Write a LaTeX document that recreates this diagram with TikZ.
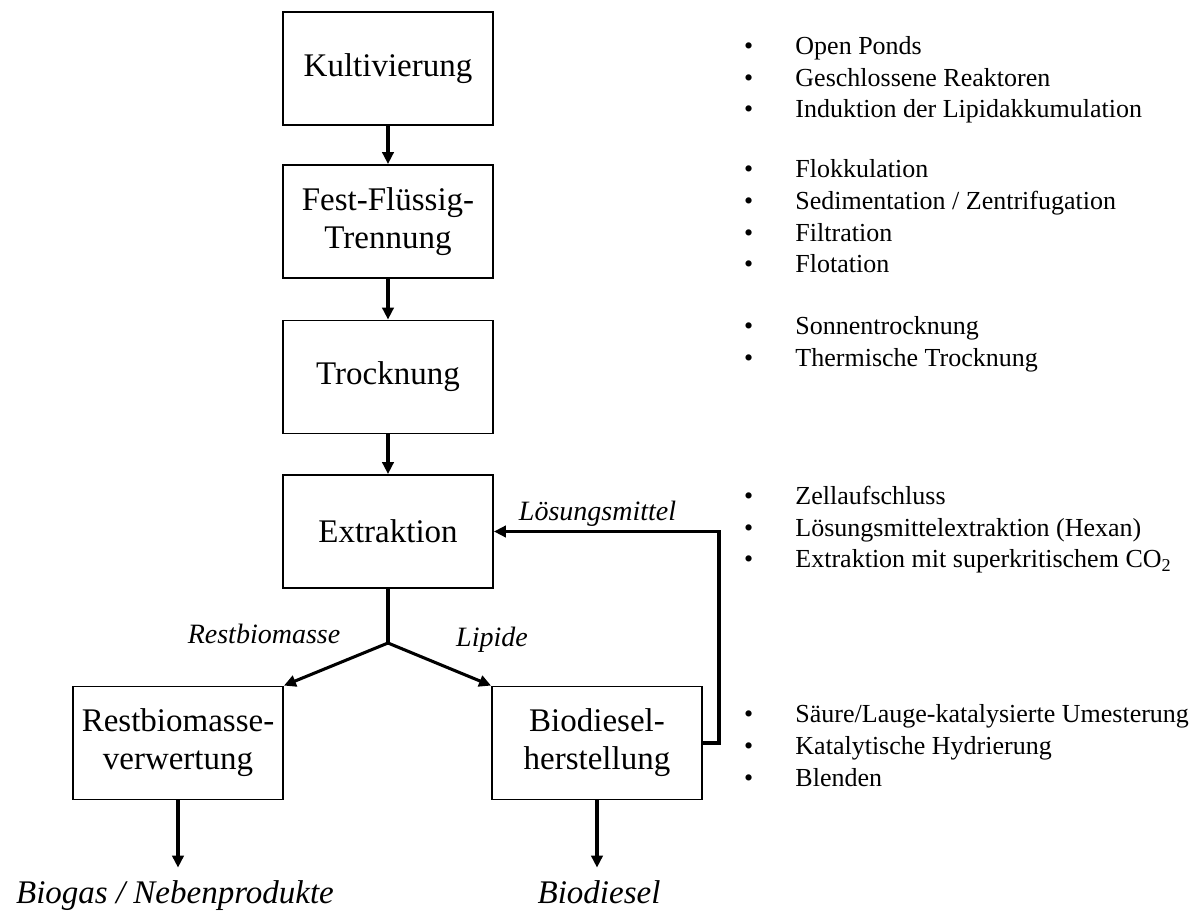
\documentclass[tikz,border=0pt]{standalone}
\usepackage{fontspec}
\setmainfont{Liberation Serif}
\usetikzlibrary{arrows.meta}

\tikzset{every picture/.style={line width=0.75pt}}
\tikzset{
  schritt/.style={draw, line width=1.4pt, minimum width=157.5pt, minimum height=84.75pt,
    align=center, inner sep=2pt, font=\fontsize{24.75}{28.5}\selectfont},
  fluss/.style={line width=2.3pt, -{Triangle[length=9pt,width=8.5pt]}},
  strang/.style={line width=2.3pt},
  stoff/.style={anchor=base, inner sep=0pt, font=\fontsize{21}{25}\selectfont\itshape},
  produkt/.style={anchor=base, inner sep=9pt, font=\fontsize{24.75}{29}\selectfont\itshape},
  punkt/.style={anchor=base west, inner sep=0pt, font=\fontsize{19.5}{23.5}\selectfont}
}
\newcommand{\bul}{\makebox[38.6pt][l]{\textbullet}}

\begin{document}
\begin{tikzpicture}[x=0.75pt,y=0.75pt,yscale=-1,xscale=1]
\useasboundingbox (0,0) rectangle (1203,911);

% Verfahrensschritte
\node[schritt] (kult) at (388,68.5) {Kultivierung};
\node[schritt] (trenn) at (388,221.5) {Fest-Flüssig-\\Trennung};
\node[schritt] (trock) at (388,377) {Trocknung};
\node[schritt] (extr) at (388,531.5) {Extraktion};
\node[schritt] (rest) at (178,743) {Restbiomasse-\\verwertung};
\node[schritt] (bio) at (597,743) {Biodiesel-\\herstellung};

% Produkte
\node[produkt] (biogas) at (175,903) {Biogas / Nebenprodukte};
\node[produkt] (diesel) at (599,903) {Biodiesel};

% Stoffstroeme
\node[stoff] (lsgm) at (597.5,520) {Lösungsmittel};
\node[stoff] (restbm) at (264,643) {Restbiomasse};
\node[stoff] (lipide) at (492,646) {Lipide};

\coordinate (split) at (388,643);
\coordinate (rueck) at (719,531.5);

% Pfeile
\draw[fluss] (kult) -- (trenn);
\draw[fluss] (trenn) -- (trock);
\draw[fluss] (trock) -- (extr);
\draw[strang] (extr) -- (split);
\draw[fluss] (split) -- (rest.north east);
\draw[fluss] (split) -- (bio.north west);
\draw[fluss] (bio.east) -| (rueck) -- (extr.east);
\draw[fluss] (rest.south) -- (rest.south |- biogas.north);
\draw[fluss] (bio.south) -- (bio.south |- diesel.north);

% Kultivierung
\node[punkt] (p1) at (743.5,54) {\bul Open Ponds};
\node[punkt] (p2) at (743.5,86) {\bul Geschlossene Reaktoren};
\node[punkt] (p3) at (743.5,117) {\bul Induktion der Lipidakkumulation};
% Fest-Fluessig-Trennung
\node[punkt] (p4) at (743.5,177) {\bul Flokkulation};
\node[punkt] (p5) at (743.5,209) {\bul Sedimentation / Zentrifugation};
\node[punkt] (p6) at (743.5,241) {\bul Filtration};
\node[punkt] (p7) at (743.5,272) {\bul Flotation};
% Trocknung
\node[punkt] (p8) at (743.5,334) {\bul Sonnentrocknung};
\node[punkt] (p9) at (743.5,366) {\bul Thermische Trocknung};
% Extraktion
\node[punkt] (p10) at (743.5,504) {\bul Zellaufschluss};
\node[punkt] (p11) at (743.5,536) {\bul Lösungsmittelextraktion (Hexan)};
\node[punkt] (p12) at (743.5,567) {\bul Extraktion mit superkritischem CO\textsubscript{2}};
% Biodieselherstellung
\node[punkt] (p13) at (743.5,722) {\bul Säure/Lauge-katalysierte Umesterung};
\node[punkt] (p14) at (743.5,754) {\bul Katalytische Hydrierung};
\node[punkt] (p15) at (743.5,786) {\bul Blenden};

\end{tikzpicture}
\end{document}
